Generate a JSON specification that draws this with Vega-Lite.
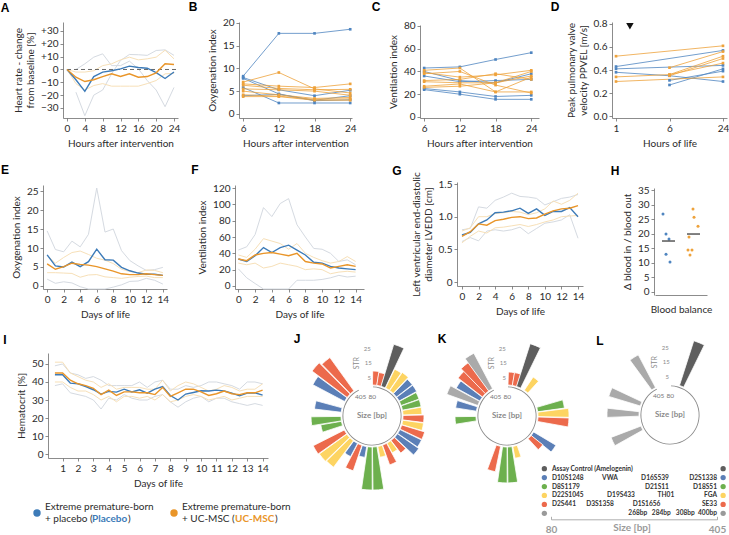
{
"$schema":"https://vega.github.io/schema/vega-lite/v6.json",
"width":729,"height":535,"autosize":{"type":"none"},"padding":0,"background":"white",
"config":{"font":"Lato","view":{"stroke":null},
 "axis":{"domainColor":"#6e6e6e","tickColor":"#6e6e6e","domainWidth":0.8,"tickWidth":0.8,"tickSize":3,"labelFontSize":10,"labelColor":"#2b2b2b","labelPadding":2,"titleFontSize":10,"titleFontWeight":"normal","titleColor":"#2b2b2b","titlePadding":5,"grid":false,"labelFlush":false,"labelOverlap":false},
 "text":{"font":"Lato"}},
"datasets":{
 "A":[{"h":0,"pm":0,"um":0,"uu":0,"ul":0},{"h":2,"pm":-8,"um":-6,"pu":0,"pl":-17.7,"uu":-2,"ul":-11},{"h":4,"pm":-17,"um":-9.4,"pu":4.4,"pl":-36,"uu":-2,"ul":-16},{"h":6,"pm":-5.5,"um":-8,"pu":9.6,"pl":-20,"uu":-1,"ul":-12.5},{"h":8,"pm":-2,"um":-5.5,"pu":12.2,"pl":-16,"uu":3,"ul":-11},{"h":10,"pm":-1,"um":-3.4,"pu":3,"pl":-3.4,"uu":4.4,"ul":-13},{"h":12,"pm":0.5,"um":-5.5,"pu":3,"pl":7,"uu":7.5,"ul":-13},{"h":14,"pm":2.6,"um":-3.4,"pu":6.5,"pl":11.7,"uu":9.6,"ul":-13},{"h":16,"pm":1.5,"um":-6,"pu":0.5,"pl":11.5,"uu":7.5,"ul":-13},{"h":18,"pm":1,"um":-5.5,"pu":-8.6,"pl":11,"uu":8.3,"ul":-11},{"h":20,"pm":-2.5,"um":-2.6,"pu":-16,"pl":14.8,"uu":9.6,"ul":-8.6},{"h":22,"pm":-7,"um":4.4,"pu":-29,"pl":15.3,"uu":15,"ul":-3.4},{"h":24,"pm":-2,"um":3.9,"pu":-14,"pl":11,"uu":8.3,"ul":-3}],
 "B":[{"s":"P1","g":"P","h":6,"v":8.3},{"s":"P1","g":"P","h":12,"v":17.7},{"s":"P1","g":"P","h":18,"v":17.7},{"s":"P1","g":"P","h":24,"v":18.6},
 {"s":"P2","g":"P","h":6,"v":8.0},{"s":"P2","g":"P","h":12,"v":5.3},{"s":"P2","g":"P","h":18,"v":4.0},{"s":"P2","g":"P","h":24,"v":5.2},
 {"s":"P3","g":"P","h":6,"v":7.8},{"s":"P3","g":"P","h":12,"v":4.4},{"s":"P3","g":"P","h":18,"v":2.9},{"s":"P3","g":"P","h":24,"v":3.1},
 {"s":"P4","g":"P","h":6,"v":5.8},{"s":"P4","g":"P","h":12,"v":2.4},{"s":"P4","g":"P","h":18,"v":2.4},{"s":"P4","g":"P","h":24,"v":2.4},
 {"s":"P5","g":"P","h":6,"v":4.0},{"s":"P5","g":"P","h":12,"v":4.3},{"s":"P5","g":"P","h":18,"v":3.0},{"s":"P5","g":"P","h":24,"v":4.0},
 {"s":"U1","g":"U","h":6,"v":7.0},{"s":"U1","g":"U","h":12,"v":9.1},{"s":"U1","g":"U","h":18,"v":5.5},{"s":"U1","g":"U","h":24,"v":4.6},
 {"s":"U2","g":"U","h":6,"v":6.6},{"s":"U2","g":"U","h":12,"v":6.1},{"s":"U2","g":"U","h":18,"v":5.8},{"s":"U2","g":"U","h":24,"v":6.6},
 {"s":"U3","g":"U","h":6,"v":6.3},{"s":"U3","g":"U","h":12,"v":5.6},{"s":"U3","g":"U","h":18,"v":5.3},{"s":"U3","g":"U","h":24,"v":5.4},
 {"s":"U4","g":"U","h":6,"v":5.5},{"s":"U4","g":"U","h":12,"v":5.3},{"s":"U4","g":"U","h":18,"v":5.0},{"s":"U4","g":"U","h":24,"v":4.1},
 {"s":"U5","g":"U","h":6,"v":5.0},{"s":"U5","g":"U","h":12,"v":4.2},{"s":"U5","g":"U","h":18,"v":3.4},{"s":"U5","g":"U","h":24,"v":3.6},
 {"s":"U6","g":"U","h":6,"v":4.2},{"s":"U6","g":"U","h":12,"v":3.9},{"s":"U6","g":"U","h":18,"v":3.2},{"s":"U6","g":"U","h":24,"v":3.3},
 {"s":"U7","g":"U","h":6,"v":3.8},{"s":"U7","g":"U","h":12,"v":3.8},{"s":"U7","g":"U","h":18,"v":3.0},{"s":"U7","g":"U","h":24,"v":3.0}],
 "C":[{"s":"P1","g":"P","h":6,"v":43},{"s":"P1","g":"P","h":12,"v":44},{"s":"P1","g":"P","h":18,"v":50.5},{"s":"P1","g":"P","h":24,"v":56.5},
 {"s":"P2","g":"P","h":6,"v":40},{"s":"P2","g":"P","h":12,"v":32},{"s":"P2","g":"P","h":18,"v":30},{"s":"P2","g":"P","h":24,"v":38},
 {"s":"P3","g":"P","h":6,"v":36},{"s":"P3","g":"P","h":12,"v":31},{"s":"P3","g":"P","h":18,"v":32},{"s":"P3","g":"P","h":24,"v":33},
 {"s":"P4","g":"P","h":6,"v":25},{"s":"P4","g":"P","h":12,"v":22},{"s":"P4","g":"P","h":18,"v":18},{"s":"P4","g":"P","h":24,"v":19},
 {"s":"P5","g":"P","h":6,"v":24},{"s":"P5","g":"P","h":12,"v":20},{"s":"P5","g":"P","h":18,"v":15.5},{"s":"P5","g":"P","h":24,"v":15.5},
 {"s":"U1","g":"U","h":6,"v":41},{"s":"U1","g":"U","h":12,"v":43},{"s":"U1","g":"U","h":18,"v":22},{"s":"U1","g":"U","h":24,"v":22},
 {"s":"U2","g":"U","h":6,"v":38},{"s":"U2","g":"U","h":12,"v":40},{"s":"U2","g":"U","h":18,"v":28},{"s":"U2","g":"U","h":24,"v":21},
 {"s":"U3","g":"U","h":6,"v":39},{"s":"U3","g":"U","h":12,"v":35},{"s":"U3","g":"U","h":18,"v":37},{"s":"U3","g":"U","h":24,"v":41},
 {"s":"U4","g":"U","h":6,"v":32},{"s":"U4","g":"U","h":12,"v":33},{"s":"U4","g":"U","h":18,"v":38},{"s":"U4","g":"U","h":24,"v":33},
 {"s":"U5","g":"U","h":6,"v":31},{"s":"U5","g":"U","h":12,"v":30},{"s":"U5","g":"U","h":18,"v":30},{"s":"U5","g":"U","h":24,"v":36},
 {"s":"U6","g":"U","h":6,"v":27},{"s":"U6","g":"U","h":12,"v":29},{"s":"U6","g":"U","h":18,"v":22},{"s":"U6","g":"U","h":24,"v":35},
 {"s":"U7","g":"U","h":6,"v":26},{"s":"U7","g":"U","h":12,"v":27},{"s":"U7","g":"U","h":18,"v":30},{"s":"U7","g":"U","h":24,"v":40}],
 "D":[{"s":"P1","g":"P","h":1,"v":0.43},{"s":"P1","g":"P","h":24,"v":0.57},
 {"s":"P2","g":"P","h":1,"v":0.41},{"s":"P2","g":"P","h":24,"v":0.44},
 {"s":"P3","g":"P","h":1,"v":0.38},{"s":"P3","g":"P","h":6,"v":0.35},{"s":"P3","g":"P","h":24,"v":0.30},
 {"s":"P4","g":"P","h":6,"v":0.31},{"s":"P4","g":"P","h":24,"v":0.39},
 {"s":"P5","g":"P","h":6,"v":0.27},{"s":"P5","g":"P","h":24,"v":0.41},
 {"s":"U1","g":"U","h":1,"v":0.52},{"s":"U1","g":"U","h":24,"v":0.61},
 {"s":"U2","g":"U","h":1,"v":0.34},{"s":"U2","g":"U","h":6,"v":0.36},{"s":"U2","g":"U","h":24,"v":0.52},
 {"s":"U3","g":"U","h":1,"v":0.30},{"s":"U3","g":"U","h":24,"v":0.34},
 {"s":"U4","g":"U","h":6,"v":0.42},{"s":"U4","g":"U","h":24,"v":0.56},
 {"s":"U5","g":"U","h":6,"v":0.35},{"s":"U5","g":"U","h":24,"v":0.50},
 {"s":"U6","g":"U","h":6,"v":0.36},{"s":"U6","g":"U","h":24,"v":0.46}],
 "E":[{"x":0,"pm":8.2,"um":5.8,"pu":14.5,"pl":1.8,"uu":8.1,"ul":3.5},{"x":1,"pm":5.3,"um":4.4,"pu":9.6,"pl":0.7,"uu":6.0,"ul":3.5},{"x":2,"pm":5.0,"um":5.1,"pu":9.0,"pl":1.1,"uu":7.5,"ul":3.4},{"x":3,"pm":6.3,"um":6.0,"pu":11.8,"pl":0.8,"uu":8.8,"ul":3.3},{"x":4,"pm":5.1,"um":5.7,"pu":10.3,"pl":-0.2,"uu":9.2,"ul":2.3},{"x":5,"pm":6.4,"um":5.5,"pu":13.6,"pl":-0.8,"uu":8.3,"ul":2.9},{"x":6,"pm":9.7,"um":5.1,"pu":25.8,"pl":-0.8,"uu":7.3,"ul":3.0},{"x":7,"pm":6.9,"um":4.5,"pu":14.2,"pl":-0.8,"uu":6.8,"ul":2.4},{"x":8,"pm":6.8,"um":3.9,"pu":15.0,"pl":-0.3,"uu":5.9,"ul":2.2},{"x":9,"pm":4.9,"um":3.2,"pu":9.3,"pl":0.3,"uu":4.4,"ul":2.0},{"x":10,"pm":4.0,"um":3.0,"pu":6.7,"pl":1.2,"uu":3.8,"ul":2.3},{"x":11,"pm":3.4,"um":3.0,"pu":5.3,"pl":1.3,"uu":3.5,"ul":2.5},{"x":12,"pm":3.1,"um":3.2,"pu":4.1,"pl":2.0,"uu":4.2,"ul":2.6},{"x":13,"pm":3.1,"um":3.0,"pu":4.3,"pl":1.5,"uu":4.1,"ul":2.2},{"x":14,"pm":2.8,"um":2.8,"pu":4.9,"pl":0.5,"uu":3.5,"ul":2.2}],
 "F":[{"x":0,"pm":33,"um":33,"pu":44,"pl":21,"uu":38,"ul":28},{"x":1,"pm":30,"um":31,"pu":48,"pl":10,"uu":35,"ul":26},{"x":2,"pm":37,"um":38,"pu":63,"pl":3,"uu":45,"ul":28},{"x":3,"pm":47,"um":40,"pu":96,"pl":-3.7,"uu":58,"ul":22},{"x":4,"pm":41,"um":41,"pu":85,"pl":-3.7,"uu":55,"ul":24},{"x":5,"pm":47,"um":39,"pu":101,"pl":-3.7,"uu":52,"ul":28},{"x":6,"pm":50,"um":37,"pu":107,"pl":-3.7,"uu":45,"ul":26},{"x":7,"pm":44,"um":40,"pu":75,"pl":7,"uu":52,"ul":24},{"x":8,"pm":38,"um":30,"pu":60,"pl":7,"uu":40,"ul":20},{"x":9,"pm":29,"um":28,"pu":46,"pl":7,"uu":35,"ul":21},{"x":10,"pm":28,"um":27,"pu":45,"pl":8,"uu":31,"ul":20},{"x":11,"pm":24,"um":22,"pu":40,"pl":10,"uu":28,"ul":15},{"x":12,"pm":22,"um":24,"pu":30,"pl":13,"uu":30,"ul":17},{"x":13,"pm":21,"um":26,"pu":32,"pl":11,"uu":36,"ul":18},{"x":14,"pm":20,"um":24,"pu":26,"pl":12,"uu":30,"ul":17}],
 "G":[{"x":0,"pm":0.72,"um":0.70,"pu":0.80,"pl":0.62,"uu":0.78,"ul":0.60},{"x":1,"pm":0.76,"um":0.77,"pu":0.82,"pl":0.68,"uu":0.83,"ul":0.70},{"x":2,"pm":0.89,"um":0.89,"pu":1.15,"pl":0.63,"uu":1.00,"ul":0.78},{"x":3,"pm":0.95,"um":0.87,"pu":1.13,"pl":0.78,"uu":1.00,"ul":0.75},{"x":4,"pm":1.06,"um":0.94,"pu":1.25,"pl":0.80,"uu":1.05,"ul":0.83},{"x":5,"pm":1.07,"um":0.96,"pu":1.30,"pl":0.78,"uu":1.06,"ul":0.84},{"x":6,"pm":1.09,"um":0.99,"pu":1.36,"pl":0.80,"uu":1.08,"ul":0.86},{"x":7,"pm":1.13,"um":1.00,"pu":1.31,"pl":0.84,"uu":1.07,"ul":0.88},{"x":8,"pm":1.05,"um":0.97,"pu":1.30,"pl":0.74,"uu":1.03,"ul":0.85},{"x":9,"pm":1.12,"um":0.98,"pu":1.28,"pl":0.82,"uu":1.06,"ul":0.88},{"x":10,"pm":1.02,"um":1.04,"pu":1.18,"pl":0.90,"uu":1.12,"ul":0.92},{"x":11,"pm":1.08,"um":1.09,"pu":1.23,"pl":0.92,"uu":1.24,"ul":0.95},{"x":12,"pm":1.08,"um":1.12,"pu":1.28,"pl":0.95,"uu":1.19,"ul":1.00},{"x":13,"pm":1.14,"um":1.13,"pu":1.30,"pl":1.03,"uu":1.25,"ul":1.01},{"x":14,"pm":1.00,"um":1.17,"pu":1.34,"pl":0.67,"uu":1.36,"ul":1.02}],
 "H":[{"g":"P","x":0.78,"v":26.8},{"g":"P","x":0.90,"v":19.9},{"g":"P","x":1.02,"v":18.2},{"g":"P","x":0.90,"v":13.0},{"g":"P","x":1.06,"v":10.3},{"g":"U","x":1.98,"v":28.5},{"g":"U","x":2.02,"v":25.7},{"g":"U","x":2.18,"v":22.6},{"g":"U","x":1.82,"v":18.9},{"g":"U","x":1.78,"v":14.4},{"g":"U","x":1.94,"v":14.4},{"g":"U","x":1.86,"v":12.7}],
 "HM":[{"c":1,"m":17.5},{"c":2,"m":19.9}],
 "I":[{"x":0.5,"pm":44,"um":45,"pu":49,"pl":38,"uu":51,"ul":40},{"x":1,"pm":44,"um":45,"pu":50,"pl":39,"uu":51,"ul":40},{"x":1.5,"pm":39.4,"um":41,"pu":45,"pl":34,"uu":45,"ul":37},{"x":2,"pm":39,"um":39,"pu":44,"pl":33,"uu":43,"ul":35},{"x":2.5,"pm":37.5,"um":38,"pu":42,"pl":32,"uu":41,"ul":35},{"x":3,"pm":35.7,"um":36.5,"pu":43,"pl":30,"uu":40,"ul":33},{"x":3.5,"pm":33.3,"um":33,"pu":41,"pl":25,"uu":37,"ul":30},{"x":4,"pm":34.8,"um":35.5,"pu":38,"pl":31,"uu":39,"ul":32},{"x":4.5,"pm":34.4,"um":32.5,"pu":38,"pl":30,"uu":36,"ul":29},{"x":5,"pm":36,"um":34.5,"pu":38,"pl":33,"uu":37,"ul":32},{"x":5.5,"pm":34.5,"um":34.5,"pu":38,"pl":31,"uu":37,"ul":32},{"x":6,"pm":35.7,"um":34,"pu":40,"pl":30,"uu":37,"ul":31},{"x":6.5,"pm":33.8,"um":34,"pu":37,"pl":30,"uu":36,"ul":32},{"x":7,"pm":36,"um":33,"pu":40,"pl":32,"uu":36,"ul":30},{"x":7.5,"pm":37.4,"um":37,"pu":41,"pl":33,"uu":41,"ul":33},{"x":8,"pm":32.5,"um":32,"pu":36,"pl":29,"uu":35,"ul":29},{"x":8.5,"pm":30,"um":34,"pu":36,"pl":26,"uu":38,"ul":30},{"x":9,"pm":33.3,"um":36,"pu":38,"pl":29,"uu":40,"ul":32},{"x":9.5,"pm":34.2,"um":36,"pu":37,"pl":31,"uu":39,"ul":33},{"x":10,"pm":35.1,"um":34.5,"pu":38,"pl":32,"uu":37,"ul":32},{"x":10.5,"pm":35,"um":32.5,"pu":40,"pl":29,"uu":35,"ul":30},{"x":11,"pm":35.5,"um":33.5,"pu":40,"pl":31,"uu":36,"ul":31},{"x":11.5,"pm":35,"um":35,"pu":39,"pl":31,"uu":38,"ul":32},{"x":12,"pm":33.8,"um":33.5,"pu":38,"pl":29,"uu":37,"ul":30},{"x":12.5,"pm":32.3,"um":33,"pu":36,"pl":28,"uu":35,"ul":31},{"x":13,"pm":33.8,"um":34,"pu":40,"pl":27,"uu":36,"ul":32},{"x":13.5,"pm":34,"um":34,"pu":40,"pl":28,"uu":36,"ul":32},{"x":14,"pm":32.7,"um":35.5,"pu":39,"pl":27,"uu":39,"ul":32}],
 "J":[{"p":"J","d":"red","s":78.9,"e":87.0,"v":9.7},{"p":"J","d":"red","s":86.7,"e":94.9,"v":9.0},{"p":"J","d":"AMEL","s":94.6,"e":102.8,"v":30.3},{"p":"J","d":"yellow","s":103.4,"e":111.6,"v":14.5},{"p":"J","d":"yellow","s":112.2,"e":120.4,"v":15.2},{"p":"J","d":"blue","s":121.1,"e":129.3,"v":13.8},{"p":"J","d":"blue","s":129.9,"e":138.1,"v":13.8},{"p":"J","d":"green","s":138.8,"e":147.0,"v":13.1},{"p":"J","d":"green","s":147.6,"e":155.8,"v":13.1},{"p":"J","d":"yellow","s":156.4,"e":164.6,"v":13.1},{"p":"J","d":"red","s":165.3,"e":173.5,"v":14.5},{"p":"J","d":"yellow","s":174.1,"e":182.3,"v":14.5},{"p":"J","d":"red","s":182.9,"e":191.1,"v":16.6},{"p":"J","d":"blue","s":191.8,"e":200.0,"v":16.6},{"p":"J","d":"blue","s":200.6,"e":208.8,"v":17.9},{"p":"J","d":"red","s":209.5,"e":217.7,"v":11.0},{"p":"J","d":"yellow","s":218.3,"e":226.5,"v":7.6},{"p":"J","d":"red","s":227.1,"e":235.3,"v":14.5},{"p":"J","d":"yellow","s":236.0,"e":244.2,"v":7.6},{"p":"J","d":"green","s":245.8,"e":254.0,"v":29.7},{"p":"J","d":"green","s":254.6,"e":262.8,"v":29.7},{"p":"J","d":"blue","s":264.4,"e":272.6,"v":7.6},{"p":"J","d":"red","s":273.3,"e":281.5,"v":18.6},{"p":"J","d":"blue","s":282.1,"e":290.3,"v":10.3},{"p":"J","d":"yellow","s":291.0,"e":299.2,"v":22.8},{"p":"J","d":"yellow","s":299.8,"e":308.0,"v":23.4},{"p":"J","d":"red","s":308.6,"e":316.8,"v":24.1},{"p":"J","d":"green","s":325.3,"e":333.5,"v":14.5},{"p":"J","d":"green","s":334.2,"e":342.4,"v":20.7},{"p":"J","d":"blue","s":349.9,"e":358.1,"v":18.6},{"p":"J","d":"blue","s":370.5,"e":378.7,"v":24.8},{"p":"J","d":"red","s":379.3,"e":387.5,"v":30.3},{"p":"J","d":"red","s":388.2,"e":396.4,"v":28.3}],
 "K":[{"p":"K","d":"red","s":79.8,"e":88.0,"v":9.0},{"p":"K","d":"red","s":87.7,"e":95.9,"v":9.0},{"p":"K","d":"AMEL","s":95.5,"e":103.7,"v":31.0},{"p":"K","d":"yellow","s":111.3,"e":119.5,"v":11.0},{"p":"K","d":"green","s":150.5,"e":158.7,"v":18.6},{"p":"K","d":"yellow","s":159.4,"e":167.6,"v":21.4},{"p":"K","d":"red","s":168.2,"e":176.4,"v":21.4},{"p":"K","d":"blue","s":196.7,"e":204.9,"v":17.9},{"p":"K","d":"red","s":204.5,"e":212.7,"v":10.3},{"p":"K","d":"yellow","s":236.0,"e":244.2,"v":8.3},{"p":"K","d":"green","s":245.8,"e":254.0,"v":24.8},{"p":"K","d":"green","s":254.6,"e":262.8,"v":24.8},{"p":"K","d":"red","s":266.4,"e":274.6,"v":17.9},{"p":"K","d":"green","s":334.2,"e":342.4,"v":14.5},{"p":"K","d":"blue","s":351.9,"e":360.1,"v":14.5},{"p":"K","d":"ctrl","s":362.6,"e":370.8,"v":22.8},{"p":"K","d":"blue","s":371.5,"e":379.7,"v":18.6},{"p":"K","d":"red","s":380.3,"e":388.5,"v":21.4},{"p":"K","d":"red","s":388.2,"e":396.4,"v":24.1},{"p":"K","d":"ctrl","s":396.0,"e":404.2,"v":27.6}],
 "L":[{"p":"L","d":"AMEL","s":95.5,"e":103.7,"v":32.4},{"p":"L","d":"ctrl","s":314.5,"e":322.7,"v":22.1},{"p":"L","d":"ctrl","s":341.0,"e":349.2,"v":22.1},{"p":"L","d":"ctrl","s":359.7,"e":367.9,"v":22.8},{"p":"L","d":"ctrl","s":396.0,"e":404.2,"v":25.5}],
 "PT":[{"t":"25","b":427.6,"r":25},{"t":"15","b":427.6,"r":15},{"t":"5","b":427.6,"r":5},{"t":"405","b":401,"r":-6.2},{"t":"80","b":78.5,"r":-8.3}],
 "LT":[{"r":0,"x":82,"t":"Assay Control (Amelogenin)","a":"l"},{"r":1,"x":82,"t":"D10S1248","a":"l"},{"r":1,"x":195.5,"t":"VWA","a":"c"},{"r":1,"x":283.6,"t":"D16S539","a":"c"},{"r":1,"x":405,"t":"D2S1338","a":"r"},{"r":2,"x":82,"t":"D8S1179","a":"l"},{"r":2,"x":287.5,"t":"D21S11","a":"c"},{"r":2,"x":405,"t":"D18S51","a":"r"},{"r":3,"x":82,"t":"D22S1045","a":"l"},{"r":3,"x":217,"t":"D19S433","a":"c"},{"r":3,"x":305,"t":"TH01","a":"c"},{"r":3,"x":405,"t":"FGA","a":"r"},{"r":4,"x":82,"t":"D2S441","a":"l"},{"r":4,"x":176,"t":"D3S1358","a":"c"},{"r":4,"x":267,"t":"D1S1656","a":"c"},{"r":4,"x":405,"t":"SE33","a":"r"},{"r":5,"x":250,"t":"268bp","a":"c"},{"r":5,"x":296,"t":"284bp","a":"c"},{"r":5,"x":343,"t":"308bp","a":"c"},{"r":5,"x":405,"t":"400bp","a":"r"}],
 "LD":[{"r":0,"x":67,"d":"AMEL"},{"r":0,"x":417,"d":"AMEL"},{"r":1,"x":67,"d":"blue"},{"r":1,"x":417,"d":"blue"},{"r":2,"x":67,"d":"green"},{"r":2,"x":417,"d":"green"},{"r":3,"x":67,"d":"yellow"},{"r":3,"x":417,"d":"yellow"},{"r":4,"x":67,"d":"red"},{"r":4,"x":417,"d":"red"},{"r":5,"x":67,"d":"ctrl"},{"r":5,"x":417,"d":"ctrl"}]
},
"layer":[
 {"data":{"name":"A"},"resolve":{"scale":{"color":"independent"}},"layer":[
  {"transform":[{"fold":["pu","pl","uu","ul"],"as":["k","v"]}],"mark":{"type":"line","strokeWidth":1},"encoding":{
   "x":{"field":"h","type":"quantitative","scale":{"domain":[-0.9,24.9],"range":[63,178],"nice":false,"zero":false},"axis":{"orient":"bottom","offset":-417,"values":[0,4,8,12,16,20,24],"title":"Hours after intervention"}},
   "y":{"field":"v","type":"quantitative","scale":{"domain":[-37.8,37],"range":[118,22],"nice":false,"zero":false},"axis":{"orient":"left","offset":-63,"values":[-30,-20,-10,0,10,20,30],"labelExpr":"datum.value > 0 ? '+' + datum.value : datum.label","title":["Heart rate - change","from baseline [%]"]}},
   "color":{"field":"k","type":"nominal","scale":{"domain":["pu","pl","uu","ul"],"range":["#d5dae1","#d5dae1","#f7e0b8","#f7e0b8"]},"legend":null}}},
  {"data":{"values":[{}]},"mark":{"type":"rule","strokeDash":[4,3],"color":"#444","strokeWidth":0.8},"encoding":{"x":{"datum":0},"x2":{"datum":24.6},"y":{"datum":0}}},
  {"transform":[{"fold":["pm","um"],"as":["k","v"]}],"mark":{"type":"line","strokeWidth":1.4},"encoding":{
   "x":{"field":"h","type":"quantitative"},"y":{"field":"v","type":"quantitative"},
   "color":{"field":"k","type":"nominal","scale":{"domain":["pm","um"],"range":["#3d7bb8","#e99529"]},"legend":null}}},
  {"data":{"values":[{}]},"mark":{"type":"text","font":"Liberation Sans","fontWeight":"bold","fontSize":12,"color":"#000"},"encoding":{"x":{"datum":-13.9},"y":{"datum":47.9},"text":{"value":"A"}}}
 ]},
 {"data":{"name":"B"},"layer":[
  {"mark":{"type":"line","strokeWidth":0.8,"point":{"filled":true,"shape":"square","size":7}},"encoding":{
   "x":{"field":"h","type":"quantitative","scale":{"domain":[5.3,24.3],"range":[239,352],"nice":false,"zero":false},"axis":{"orient":"bottom","offset":-417,"values":[6,12,18,24],"title":"Hours after intervention"}},
   "y":{"field":"v","type":"quantitative","scale":{"domain":[-0.9,20.2],"range":[118,22],"nice":false,"zero":false},"axis":{"orient":"left","offset":-239,"values":[0,5,10,15,20],"title":"Oxygenation index"}},
   "color":{"field":"g","type":"nominal","scale":{"domain":["P","U"],"range":["#4f85c0","#eea23b"]},"legend":null},
   "detail":{"field":"s"}}},
  {"data":{"values":[{}]},"mark":{"type":"text","font":"Liberation Sans","fontWeight":"bold","fontSize":12,"color":"#000"},"encoding":{"x":{"datum":-2.43},"y":{"datum":23.5},"text":{"value":"B"}}}
 ]},
 {"data":{"name":"C"},"layer":[
  {"mark":{"type":"line","strokeWidth":0.8,"point":{"filled":true,"shape":"square","size":7}},"encoding":{
   "x":{"field":"h","type":"quantitative","scale":{"domain":[5.3,25.3],"range":[420,539],"nice":false,"zero":false},"axis":{"orient":"bottom","offset":-417,"values":[6,12,18,24],"title":"Hours after intervention"}},
   "y":{"field":"v","type":"quantitative","scale":{"domain":[-0.9,80.8],"range":[118,25],"nice":false,"zero":false},"axis":{"orient":"left","offset":-420,"values":[0,20,40,60,80],"title":"Ventilation index"}},
   "color":{"field":"g","type":"nominal","scale":{"domain":["P","U"],"range":["#4f85c0","#eea23b"]},"legend":null},
   "detail":{"field":"s"}}},
  {"data":{"values":[{}]},"mark":{"type":"text","font":"Liberation Sans","fontWeight":"bold","fontSize":12,"color":"#000"},"encoding":{"x":{"datum":-2.1},"y":{"datum":96.6},"text":{"value":"C"}}}
 ]},
 {"data":{"name":"D"},"mark":{"type":"line","strokeWidth":0.8,"point":{"filled":true,"shape":"square","size":7}},"encoding":{
   "x":{"field":"h","type":"ordinal","scale":{"type":"point","domain":[1,6,24],"range":[612,727],"padding":0.075},"axis":{"orient":"bottom","offset":-417,"labelAngle":0,"title":"Hours of life"}},
   "y":{"field":"v","type":"quantitative","scale":{"domain":[-0.017,0.817],"range":[118,22],"nice":false,"zero":false},"axis":{"orient":"left","offset":-612,"values":[0,0.2,0.4,0.6,0.8],"title":["Peak pulmonary valve","velocity PPVEL [m/s]"]}},
   "color":{"field":"g","type":"nominal","scale":{"domain":["P","U"],"range":["#4f85c0","#eea23b"]},"legend":null},
   "detail":{"field":"s"}}},
 {"data":{"values":[{}]},"layer":[
  {"mark":{"type":"point","shape":"triangle-down","filled":true,"size":55,"color":"#111","opacity":1},"encoding":{"x":{"datum":2.3,"type":"quantitative","scale":{"domain":[1,6],"range":[616,669.5],"zero":false,"nice":false},"axis":null},"y":{"datum":0.78,"type":"quantitative","scale":{"domain":[-0.017,0.817],"range":[118,22],"zero":false,"nice":false},"axis":null}}},
  {"mark":{"type":"text","font":"Liberation Sans","fontWeight":"bold","fontSize":12,"color":"#000"},"encoding":{"x":{"datum":-4.7,"axis":null},"y":{"datum":0.947,"axis":null},"text":{"value":"D"}}}
 ]},
 {"data":{"name":"E"},"resolve":{"scale":{"color":"independent"}},"layer":[
  {"transform":[{"fold":["pu","pl","uu","ul"],"as":["k","v"]}],"mark":{"type":"line","strokeWidth":1},"encoding":{
   "x":{"field":"x","type":"quantitative","scale":{"domain":[-0.5,14.5],"range":[43,167],"nice":false,"zero":false},"axis":{"orient":"bottom","offset":-246,"values":[0,2,4,6,8,10,12,14],"title":"Days of life"}},
   "y":{"field":"v","type":"quantitative","scale":{"domain":[-0.8,26.6],"range":[289,185],"nice":false,"zero":false},"axis":{"orient":"left","offset":-43,"values":[0,5,10,15,20,25],"title":"Oxygenation index"}},
   "color":{"field":"k","type":"nominal","scale":{"domain":["pu","pl","uu","ul"],"range":["#d5dae1","#d5dae1","#f7e0b8","#f7e0b8"]},"legend":null}}},
  {"transform":[{"fold":["pm","um"],"as":["k","v"]}],"mark":{"type":"line","strokeWidth":1.4},"encoding":{
   "x":{"field":"x","type":"quantitative"},"y":{"field":"v","type":"quantitative"},
   "color":{"field":"k","type":"nominal","scale":{"domain":["pm","um"],"range":["#3d7bb8","#e99529"]},"legend":null}}},
  {"data":{"values":[{}]},"mark":{"type":"text","font":"Liberation Sans","fontWeight":"bold","fontSize":12,"color":"#000"},"encoding":{"x":{"datum":-5.09},"y":{"datum":30.55},"text":{"value":"E"}}}
 ]},
 {"data":{"name":"F"},"resolve":{"scale":{"color":"independent"}},"layer":[
  {"transform":[{"fold":["pu","pl","uu","ul"],"as":["k","v"]}],"mark":{"type":"line","strokeWidth":1},"encoding":{
   "x":{"field":"x","type":"quantitative","scale":{"domain":[-0.4,15],"range":[235,364],"nice":false,"zero":false},"axis":{"orient":"bottom","offset":-246,"values":[0,2,4,6,8,10,12,14],"title":"Days of life"}},
   "y":{"field":"v","type":"quantitative","scale":{"domain":[-3.7,123.7],"range":[289,185],"nice":false,"zero":false},"axis":{"orient":"left","offset":-235,"values":[0,20,40,60,80,100,120],"title":"Ventilation index"}},
   "color":{"field":"k","type":"nominal","scale":{"domain":["pu","pl","uu","ul"],"range":["#d5dae1","#d5dae1","#f7e0b8","#f7e0b8"]},"legend":null}}},
  {"transform":[{"fold":["pm","um"],"as":["k","v"]}],"mark":{"type":"line","strokeWidth":1.4},"encoding":{
   "x":{"field":"x","type":"quantitative"},"y":{"field":"v","type":"quantitative"},
   "color":{"field":"k","type":"nominal","scale":{"domain":["pm","um"],"range":["#3d7bb8","#e99529"]},"legend":null}}},
  {"data":{"values":[{}]},"mark":{"type":"text","font":"Liberation Sans","fontWeight":"bold","fontSize":12,"color":"#000"},"encoding":{"x":{"datum":-5.17},"y":{"datum":142.1},"text":{"value":"F"}}}
 ]},
 {"data":{"name":"G"},"resolve":{"scale":{"color":"independent"}},"layer":[
  {"transform":[{"fold":["pu","pl","uu","ul"],"as":["k","v"]}],"mark":{"type":"line","strokeWidth":1},"encoding":{
   "x":{"field":"x","type":"quantitative","scale":{"domain":[-0.6,14.6],"range":[457,583],"nice":false,"zero":false},"axis":{"orient":"bottom","offset":-249,"values":[0,2,4,6,8,10,12,14],"title":"Days of life"}},
   "y":{"field":"v","type":"quantitative","scale":{"domain":[-0.061,1.531],"range":[286,182],"nice":false,"zero":false},"axis":{"orient":"left","offset":-457,"values":[0,0.5,1,1.5],"labelExpr":"datum.value == 0 ? '0' : format(datum.value, '.1f')","title":["Left ventricular end-diastolic","diameter LVEDD [cm]"]}},
   "color":{"field":"k","type":"nominal","scale":{"domain":["pu","pl","uu","ul"],"range":["#d5dae1","#d5dae1","#f7e0b8","#f7e0b8"]},"legend":null}}},
  {"transform":[{"fold":["pm","um"],"as":["k","v"]}],"mark":{"type":"line","strokeWidth":1.4},"encoding":{
   "x":{"field":"x","type":"quantitative"},"y":{"field":"v","type":"quantitative"},
   "color":{"field":"k","type":"nominal","scale":{"domain":["pm","um"],"range":["#3d7bb8","#e99529"]},"legend":null}}},
  {"data":{"values":[{}]},"mark":{"type":"text","font":"Liberation Sans","fontWeight":"bold","fontSize":12,"color":"#000"},"encoding":{"x":{"datum":-7.84},"y":{"datum":1.70},"text":{"value":"G"}}}
 ]},
 {"layer":[
  {"data":{"name":"H"},"mark":{"type":"point","filled":true,"size":9,"opacity":1},"encoding":{
   "x":{"field":"x","type":"quantitative","scale":{"domain":[0.46,2.54],"range":[655,707],"nice":false,"zero":false},"axis":{"orient":"bottom","offset":-240,"ticks":false,"labels":false,"title":"Blood balance","titlePadding":9}},
   "y":{"field":"v","type":"quantitative","scale":{"domain":[-1.03,35.7],"range":[295,188],"nice":false,"zero":false},"axis":{"orient":"left","offset":-654,"values":[0,5,10,15,20,25,30,35],"title":"Δ blood in / blood out"}},
   "color":{"field":"g","type":"nominal","scale":{"domain":["P","U"],"range":["#4f85c0","#eea23b"]},"legend":null}}},
  {"data":{"name":"HM"},"mark":{"type":"tick","orient":"horizontal","size":13,"thickness":1.5,"color":"#111"},"encoding":{"x":{"field":"c","type":"quantitative"},"y":{"field":"m","type":"quantitative"}}},
  {"data":{"values":[{}]},"mark":{"type":"text","font":"Liberation Sans","fontWeight":"bold","fontSize":12,"color":"#000"},"encoding":{"x":{"datum":-1.14},"y":{"datum":41.5},"text":{"value":"H"}}}
 ]},
 {"data":{"name":"I"},"resolve":{"scale":{"color":"independent"}},"layer":[
  {"transform":[{"fold":["pu","pl","uu","ul"],"as":["k","v"]}],"mark":{"type":"line","strokeWidth":1},"encoding":{
   "x":{"field":"x","type":"quantitative","scale":{"domain":[0.05,14.35],"range":[48,268],"nice":false,"zero":false},"axis":{"orient":"bottom","offset":-77,"values":[1,2,3,4,5,6,7,8,9,10,11,12,13,14],"title":"Days of life"}},
   "y":{"field":"v","type":"quantitative","scale":{"domain":[-2.2,56.1],"range":[458,353],"nice":false,"zero":false},"axis":{"orient":"left","offset":-48,"values":[0,10,20,30,40,50],"title":"Hematocrit [%]"}},
   "color":{"field":"k","type":"nominal","scale":{"domain":["pu","pl","uu","ul"],"range":["#d5dae1","#d5dae1","#f7e0b8","#f7e0b8"]},"legend":null}}},
  {"transform":[{"fold":["pm","um"],"as":["k","v"]}],"mark":{"type":"line","strokeWidth":1.4},"encoding":{
   "x":{"field":"x","type":"quantitative"},"y":{"field":"v","type":"quantitative"},
   "color":{"field":"k","type":"nominal","scale":{"domain":["pm","um"],"range":["#3d7bb8","#e99529"]},"legend":null}}},
  {"data":{"values":[{}]},"mark":{"type":"text","font":"Liberation Sans","fontWeight":"bold","fontSize":12,"color":"#000"},"encoding":{"x":{"datum":-2.745},"y":{"datum":63.3},"text":{"value":"I"}}}
 ]},
 {"data":{"values":[{"g":"Placebo","t2":"+ placebo (","t3":"Placebo"},{"g":"UC-MSC","t2":"+ UC-MSC (","t3":"UC-MSC"}]},"layer":[
  {"mark":{"type":"point","filled":true,"size":55,"opacity":1},"encoding":{"x":{"field":"g","type":"nominal","scale":{"domain":["Placebo","UC-MSC"],"range":[37,174],"padding":0},"axis":null},"y":{"datum":0.5,"type":"quantitative","scale":{"domain":[0,1],"range":[507,519]},"axis":null},"color":{"field":"g","type":"nominal","scale":{"domain":["Placebo","UC-MSC"],"range":["#3d7bb8","#e99529"]},"legend":null}}},
  {"mark":{"type":"text","align":"left","dx":8,"fontSize":10,"color":"#2b2b2b"},"encoding":{"x":{"field":"g","type":"nominal","axis":null},"y":{"datum":0,"axis":null},"text":{"value":"Extreme premature-born"}}},
  {"mark":{"type":"text","align":"left","dx":8,"fontSize":10,"color":"#2b2b2b"},"encoding":{"x":{"field":"g","type":"nominal","axis":null},"y":{"datum":1,"axis":null},"text":{"field":"t2"}}},
  {"transform":[{"filter":"datum.g == 'Placebo'"}],"mark":{"type":"text","align":"left","dx":55,"fontSize":10,"fontWeight":"bold"},"encoding":{"x":{"field":"g","type":"nominal","axis":null},"y":{"datum":1,"axis":null},"text":{"field":"t3"},"color":{"field":"g","type":"nominal","legend":null}}},
  {"transform":[{"filter":"datum.g == 'UC-MSC'"}],"mark":{"type":"text","align":"left","dx":61,"fontSize":10,"fontWeight":"bold"},"encoding":{"x":{"field":"g","type":"nominal","axis":null},"y":{"datum":1,"axis":null},"text":{"field":"t3"},"color":{"field":"g","type":"nominal","legend":null}}},
  {"transform":[{"filter":"datum.g == 'Placebo'"}],"mark":{"type":"text","align":"left","dx":91,"fontSize":10,"color":"#2b2b2b"},"encoding":{"x":{"field":"g","type":"nominal","axis":null},"y":{"datum":1,"axis":null},"text":{"value":")"}}},
  {"transform":[{"filter":"datum.g == 'UC-MSC'"}],"mark":{"type":"text","align":"left","dx":101,"fontSize":10,"color":"#2b2b2b"},"encoding":{"x":{"field":"g","type":"nominal","axis":null},"y":{"datum":1,"axis":null},"text":{"value":")"}}}
 ]},
 {"layer":[
  {"data":{"name":"LT"},"transform":[{"filter":"datum.a == 'l'"}],"mark":{"type":"text","align":"left","fontSize":6.6,"fontWeight":"bold","color":"#333"},"encoding":{
   "x":{"field":"x","type":"quantitative","scale":{"domain":[80,405],"range":[551,717],"nice":false,"zero":false},"axis":{"orient":"bottom","offset":-15.7,"values":[80,405],"title":null,"tickSize":-3,"labelPadding":8,"labelFontSize":10,"labelFontWeight":"bold","labelColor":"#9a9a9a","domainColor":"#9a9a9a","tickColor":"#9a9a9a"}},
   "y":{"field":"r","type":"quantitative","scale":{"domain":[0,5],"range":[468.7,513.3],"nice":false,"zero":false},"axis":null},
   "text":{"field":"t"}}},
  {"data":{"name":"LT"},"transform":[{"filter":"datum.a == 'c'"}],"mark":{"type":"text","align":"center","fontSize":6.6,"fontWeight":"bold","color":"#333"},"encoding":{"x":{"field":"x","type":"quantitative"},"y":{"field":"r","type":"quantitative","axis":null},"text":{"field":"t"}}},
  {"data":{"name":"LT"},"transform":[{"filter":"datum.a == 'r'"}],"mark":{"type":"text","align":"right","fontSize":6.6,"fontWeight":"bold","color":"#333"},"encoding":{"x":{"field":"x","type":"quantitative"},"y":{"field":"r","type":"quantitative","axis":null},"text":{"field":"t"}}},
  {"data":{"name":"LD"},"mark":{"type":"point","filled":true,"size":28,"opacity":1},"encoding":{"x":{"field":"x","type":"quantitative"},"y":{"field":"r","type":"quantitative","axis":null},
   "color":{"field":"d","type":"nominal","scale":{"domain":["AMEL","blue","green","yellow","red","ctrl"],"range":["#5e5e5e","#5b7fb7","#6db04e","#fdd462","#ec6a4c","#9a9a9a"]},"legend":null}}},
  {"data":{"values":[{}]},"mark":{"type":"text","fontSize":10,"fontWeight":"bold","color":"#9a9a9a"},"encoding":{"x":{"datum":238.6},"y":{"datum":6.65,"axis":null},"text":{"value":"Size [bp]"}}},
  {"data":{"values":[{"t":"J","x":-417.3,"r":-14.54},{"t":"K","x":-133.4,"r":-14.54},{"t":"L","x":175.9,"r":-14.32}]},"mark":{"type":"text","font":"Liberation Sans","fontWeight":"bold","fontSize":12,"color":"#000"},"encoding":{"x":{"field":"x","type":"quantitative"},"y":{"field":"r","type":"quantitative","axis":null},"text":{"field":"t"}}}
 ]},
 {"layer":[
  {"data":{"name":"J"},"mark":{"type":"arc","stroke":"white","strokeWidth":0.8},"encoding":{
   "x":{"field":"p","type":"nominal","scale":{"domain":["J"],"range":[300,444]},"axis":null},
   "y":{"field":"p","type":"nominal","scale":{"domain":["J"],"range":[344,488]},"axis":null},
   "theta":{"field":"s","type":"quantitative","scale":{"domain":[78.04,431.5],"range":[0,6.2832]},"stack":null},
   "theta2":{"field":"e"},
   "radius":{"field":"v","type":"quantitative","scale":{"type":"linear","domain":[0,30],"range":[31,74.5],"zero":false,"nice":false}},
   "radius2":{"datum":0},
   "color":{"field":"d","type":"nominal","scale":{"domain":["AMEL","blue","green","yellow","red","ctrl"],"range":["#5e5e5e","#5b7fb7","#6db04e","#fdd462","#ec6a4c","#aaaaaa"]},"legend":null}}},
  {"data":{"values":[{"p":"J","b0":80,"b1":405,"r0":-1.0,"r1":-1.6}]},"mark":{"type":"arc","color":"#8a8a8a"},"encoding":{"x":{"field":"p","type":"nominal","axis":null},"y":{"field":"p","type":"nominal","axis":null},"theta":{"field":"b0","type":"quantitative","stack":null},"theta2":{"field":"b1"},"radius":{"field":"r0","type":"quantitative"},"radius2":{"field":"r1"}}},
  {"data":{"name":"PT"},"transform":[{"filter":"datum.r > 0"}],"mark":{"type":"text","fontSize":6,"color":"#8a8a8a"},"encoding":{"x":{"datum":"J","type":"nominal","axis":null},"y":{"datum":"J","type":"nominal","axis":null},"theta":{"field":"b","type":"quantitative","stack":null},"radius":{"field":"r","type":"quantitative"},"text":{"field":"t"}}},
  {"data":{"name":"PT"},"transform":[{"filter":"datum.r < 0"}],"mark":{"type":"text","fontSize":6.5,"color":"#777"},"encoding":{"x":{"datum":"J","type":"nominal","axis":null},"y":{"datum":"J","type":"nominal","axis":null},"theta":{"field":"b","type":"quantitative","stack":null},"radius":{"field":"r","type":"quantitative"},"text":{"field":"t"}}},
  {"data":{"values":[{"p":"J","t":"Size [bp]"}]},"mark":{"type":"text","fontSize":8,"fontWeight":"bold","color":"#8a8a8a"},"encoding":{"x":{"field":"p","type":"nominal","axis":null},"y":{"field":"p","type":"nominal","axis":null},"text":{"field":"t"}}},
  {"data":{"values":[{"p":"J","t":"STR","b":415.8,"r":16.5}]},"mark":{"type":"text","fontSize":7,"color":"#8a8a8a","angle":270},"encoding":{"x":{"field":"p","type":"nominal","axis":null},"y":{"field":"p","type":"nominal","axis":null},"theta":{"field":"b","type":"quantitative","stack":null},"radius":{"field":"r","type":"quantitative"},"text":{"field":"t"}}}
 ]},
 {"layer":[
  {"data":{"name":"K"},"mark":{"type":"arc","stroke":"white","strokeWidth":0.8},"encoding":{
   "x":{"field":"p","type":"nominal","scale":{"domain":["K"],"range":[435,579]},"axis":null},
   "y":{"field":"p","type":"nominal","scale":{"domain":["K"],"range":[344,488]},"axis":null},
   "theta":{"field":"s","type":"quantitative","scale":{"domain":[78.04,431.5],"range":[0,6.2832]},"stack":null},
   "theta2":{"field":"e"},
   "radius":{"field":"v","type":"quantitative","scale":{"type":"linear","domain":[0,30],"range":[31,74.5],"zero":false,"nice":false}},
   "radius2":{"datum":0},
   "color":{"field":"d","type":"nominal","scale":{"domain":["AMEL","blue","green","yellow","red","ctrl"],"range":["#5e5e5e","#5b7fb7","#6db04e","#fdd462","#ec6a4c","#aaaaaa"]},"legend":null}}},
  {"data":{"values":[{"p":"K","b0":80,"b1":405,"r0":-1.0,"r1":-1.6}]},"mark":{"type":"arc","color":"#8a8a8a"},"encoding":{"x":{"field":"p","type":"nominal","axis":null},"y":{"field":"p","type":"nominal","axis":null},"theta":{"field":"b0","type":"quantitative","stack":null},"theta2":{"field":"b1"},"radius":{"field":"r0","type":"quantitative"},"radius2":{"field":"r1"}}},
  {"data":{"name":"PT"},"transform":[{"filter":"datum.r > 0"}],"mark":{"type":"text","fontSize":6,"color":"#8a8a8a"},"encoding":{"x":{"datum":"K","type":"nominal","axis":null},"y":{"datum":"K","type":"nominal","axis":null},"theta":{"field":"b","type":"quantitative","stack":null},"radius":{"field":"r","type":"quantitative"},"text":{"field":"t"}}},
  {"data":{"name":"PT"},"transform":[{"filter":"datum.r < 0"}],"mark":{"type":"text","fontSize":6.5,"color":"#777"},"encoding":{"x":{"datum":"K","type":"nominal","axis":null},"y":{"datum":"K","type":"nominal","axis":null},"theta":{"field":"b","type":"quantitative","stack":null},"radius":{"field":"r","type":"quantitative"},"text":{"field":"t"}}},
  {"data":{"values":[{"p":"K","t":"Size [bp]"}]},"mark":{"type":"text","fontSize":8,"fontWeight":"bold","color":"#8a8a8a"},"encoding":{"x":{"field":"p","type":"nominal","axis":null},"y":{"field":"p","type":"nominal","axis":null},"text":{"field":"t"}}},
  {"data":{"values":[{"p":"K","t":"STR","b":415.8,"r":16.5}]},"mark":{"type":"text","fontSize":7,"color":"#8a8a8a","angle":270},"encoding":{"x":{"field":"p","type":"nominal","axis":null},"y":{"field":"p","type":"nominal","axis":null},"theta":{"field":"b","type":"quantitative","stack":null},"radius":{"field":"r","type":"quantitative"},"text":{"field":"t"}}}
 ]},
 {"layer":[
  {"data":{"name":"L"},"mark":{"type":"arc","stroke":"white","strokeWidth":0.8},"encoding":{
   "x":{"field":"p","type":"nominal","scale":{"domain":["L"],"range":[598,742]},"axis":null},
   "y":{"field":"p","type":"nominal","scale":{"domain":["L"],"range":[343,487]},"axis":null},
   "theta":{"field":"s","type":"quantitative","scale":{"domain":[78.04,431.5],"range":[0,6.2832]},"stack":null},
   "theta2":{"field":"e"},
   "radius":{"field":"v","type":"quantitative","scale":{"type":"linear","domain":[0,30],"range":[31,74.5],"zero":false,"nice":false}},
   "radius2":{"datum":0},
   "color":{"field":"d","type":"nominal","scale":{"domain":["AMEL","blue","green","yellow","red","ctrl"],"range":["#5e5e5e","#5b7fb7","#6db04e","#fdd462","#ec6a4c","#aaaaaa"]},"legend":null}}},
  {"data":{"values":[{"p":"L","b0":80,"b1":405,"r0":-1.0,"r1":-1.6}]},"mark":{"type":"arc","color":"#8a8a8a"},"encoding":{"x":{"field":"p","type":"nominal","axis":null},"y":{"field":"p","type":"nominal","axis":null},"theta":{"field":"b0","type":"quantitative","stack":null},"theta2":{"field":"b1"},"radius":{"field":"r0","type":"quantitative"},"radius2":{"field":"r1"}}},
  {"data":{"name":"PT"},"transform":[{"filter":"datum.r > 0"}],"mark":{"type":"text","fontSize":6,"color":"#8a8a8a"},"encoding":{"x":{"datum":"L","type":"nominal","axis":null},"y":{"datum":"L","type":"nominal","axis":null},"theta":{"field":"b","type":"quantitative","stack":null},"radius":{"field":"r","type":"quantitative"},"text":{"field":"t"}}},
  {"data":{"name":"PT"},"transform":[{"filter":"datum.r < 0"}],"mark":{"type":"text","fontSize":6.5,"color":"#777"},"encoding":{"x":{"datum":"L","type":"nominal","axis":null},"y":{"datum":"L","type":"nominal","axis":null},"theta":{"field":"b","type":"quantitative","stack":null},"radius":{"field":"r","type":"quantitative"},"text":{"field":"t"}}},
  {"data":{"values":[{"p":"L","t":"Size [bp]"}]},"mark":{"type":"text","fontSize":8,"fontWeight":"bold","color":"#8a8a8a"},"encoding":{"x":{"field":"p","type":"nominal","axis":null},"y":{"field":"p","type":"nominal","axis":null},"text":{"field":"t"}}},
  {"data":{"values":[{"p":"L","t":"STR","b":415.8,"r":16.5}]},"mark":{"type":"text","fontSize":7,"color":"#8a8a8a","angle":270},"encoding":{"x":{"field":"p","type":"nominal","axis":null},"y":{"field":"p","type":"nominal","axis":null},"theta":{"field":"b","type":"quantitative","stack":null},"radius":{"field":"r","type":"quantitative"},"text":{"field":"t"}}}
 ]}
],
"resolve":{"scale":{"x":"independent","y":"independent","color":"independent","theta":"independent","radius":"independent"},"axis":{"x":"independent","y":"independent"}}
}
